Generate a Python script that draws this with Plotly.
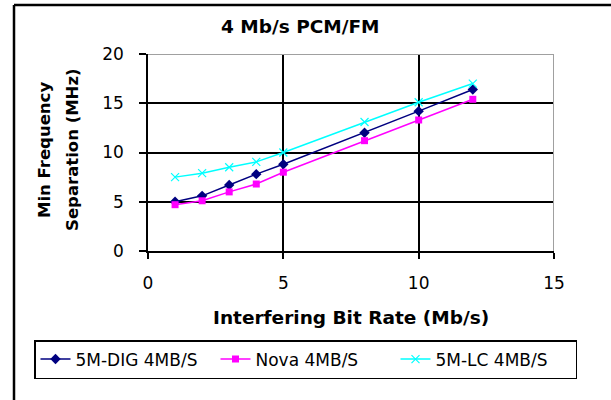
import plotly.graph_objects as go

# interfering bit rate (Mb/s)
bit_rate = [1, 2, 3, 4, 5, 8, 10, 12]

# min frequency separation (MHz)
dig_4mbs = [5.0, 5.6, 6.7, 7.8, 8.8, 12.0, 14.2, 16.4]
nova_4mbs = [4.7, 5.1, 6.0, 6.8, 8.0, 11.2, 13.3, 15.4]
lc_4mbs = [7.5, 7.9, 8.5, 9.05, 10.0, 13.1, 15.1, 17.0]

series_names = ['5M-DIG 4MB/S', 'Nova 4MB/S', '5M-LC 4MB/S']

FONT = 'DejaVu Sans'

fig = go.Figure()

fig.add_trace(go.Scatter(
    x=bit_rate, y=dig_4mbs, name=series_names[0], mode='lines+markers',
    line=dict(color='#000080', width=1.5),
    marker=dict(symbol='diamond', size=8, color='#000080'),
))
fig.add_trace(go.Scatter(
    x=bit_rate, y=nova_4mbs, name=series_names[1], mode='lines+markers',
    line=dict(color='#FF00FF', width=1.5),
    marker=dict(symbol='square', size=7, color='#FF00FF'),
))
fig.add_trace(go.Scatter(
    x=bit_rate, y=lc_4mbs, name=series_names[2], mode='lines+markers',
    line=dict(color='#00FFFF', width=1.5),
    marker=dict(symbol='x-thin', size=8, line=dict(color='#00FFFF', width=1.2)),
))

# plot area: x 148..554, y 54..251 px
def px(x):
    return (x - 148) / 406


def py(y):
    return (251 - y) / 197


shapes = [
    # gray top / right plot border
    dict(type='line', xref='x', yref='y', x0=0, x1=15, y0=20, y1=20,
         line=dict(color='#A0A0A0', width=2), layer='above'),
    dict(type='line', xref='x', yref='y', x0=15, x1=15, y0=0, y1=20,
         line=dict(color='#A0A0A0', width=2), layer='above'),
    # outer frame (left + top)
    dict(type='line', xref='paper', yref='paper', x0=px(14), x1=px(14), y0=py(5), y1=py(402),
         line=dict(color='black', width=2.5)),
    dict(type='line', xref='paper', yref='paper', x0=px(14), x1=px(612), y0=py(5), y1=py(5),
         line=dict(color='black', width=2.5)),
]

ann_font = dict(family=FONT, color='black')
annotations = [
    dict(text='<b>4 Mb/s PCM/FM</b>', x=px(300), y=py(26), font=dict(size=18.5, **ann_font)),
    dict(text='<b>Interfering Bit Rate (Mb/s)</b>', x=px(351), y=py(317), font=dict(size=18.5, **ann_font)),
    dict(text='<b>Min Frequency</b>', x=px(44), y=py(150), textangle=-90, font=dict(size=16.5, **ann_font)),
    dict(text='<b>Separation (MHz)</b>', x=px(72), y=py(150), textangle=-90, font=dict(size=16.5, **ann_font)),
]
for a in annotations:
    a.update(xref='paper', yref='paper', xanchor='center', yanchor='middle', showarrow=False)

fig.update_layout(
    width=611, height=400,
    margin=dict(l=148, r=57, t=54, b=149),
    plot_bgcolor='white', paper_bgcolor='white',
    font=dict(family=FONT, size=17, color='black'),
    xaxis=dict(range=[0, 15], dtick=5, showgrid=True, gridcolor='black', gridwidth=1.5,
               zeroline=False, showline=True, linecolor='black', linewidth=1.5,
               ticks='outside', ticklen=6, tickwidth=1.5, tickcolor='black',
               ticklabelstandoff=10, tickfont=dict(family=FONT, size=17)),
    yaxis=dict(range=[0, 20], dtick=5, showgrid=True, gridcolor='black', gridwidth=1.5,
               zeroline=False, showline=True, linecolor='black', linewidth=1.5,
               ticks='outside', ticklen=7, tickwidth=1.5, tickcolor='black',
               ticklabelstandoff=12, tickfont=dict(family=FONT, size=17)),
    legend=dict(orientation='h', x=px(34), y=py(340), xanchor='left', yanchor='top',
                bordercolor='black', borderwidth=1.5, bgcolor='white',
                entrywidth=135, entrywidthmode='pixels',
                font=dict(family=FONT, size=17), tracegroupgap=0),
    shapes=shapes,
    annotations=annotations,
)

fig.write_html('out.html', config={'displayModeBar': False},
               post_script="document.body.style.margin='0';")
